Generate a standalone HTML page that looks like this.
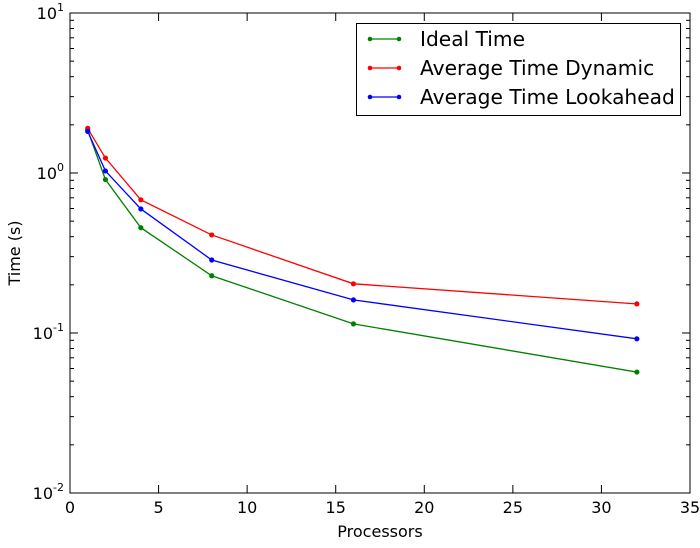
<!DOCTYPE html>
<html><head><meta charset="utf-8"><style>
body{margin:0;background:#fff;}
svg text{font-family:"DejaVu Sans","Liberation Sans",sans-serif;}
</style></head><body>
<svg id="chart" width="700" height="543" xmlns="http://www.w3.org/2000/svg"></svg>
<script>
const processors = [1, 2, 4, 8, 16, 32];
const idealTime = [1.85, 0.91, 0.455, 0.228, 0.114, 0.057];
const dynamicTime = [1.9, 1.24, 0.68, 0.41, 0.203, 0.152];
const lookaheadTime = [1.82, 1.03, 0.596, 0.286, 0.161, 0.092];
const xTicks = [0, 5, 10, 15, 20, 25, 30, 35];
const yExps = [-2, -1, 0, 1];
const seriesNames = ["Ideal Time", "Average Time Dynamic", "Average Time Lookahead"];

const NS = "http://www.w3.org/2000/svg";
const svg = document.getElementById('chart');
const L = 70, R = 690, T = 13, B = 493;
const xs = v => L + (v - 0) / 35 * (R - L);
const ys = v => T + (1 - Math.log10(v)) / 3 * (B - T);
function mk(tag, attrs, parent) {
  const e = document.createElementNS(NS, tag);
  for (const k in attrs) e.setAttribute(k, attrs[k]);
  (parent || svg).appendChild(e);
  return e;
}
const tg = mk('g', {});


xTicks.forEach(t => {
  const x = xs(t);
  mk('line', {x1: x, x2: x, y1: B, y2: B - 8, stroke: '#000'}, tg);
  mk('line', {x1: x, x2: x, y1: T, y2: T + 8, stroke: '#000'}, tg);
  const tx = mk('text', {x: x, y: B + 20, 'font-size': 16, 'text-anchor': 'middle'}, tg);
  tx.textContent = t;
  
  
});
yExps.forEach(e => {
  const y = ys(Math.pow(10, e));
  mk('line', {x1: L, x2: L + 8, y1: y, y2: y, stroke: '#000'}, tg);
  mk('line', {x1: R, x2: R - 8, y1: y, y2: y, stroke: '#000'}, tg);
  const tx = mk('text', {x: L - 6, y: y + 6, 'font-size': 16, 'text-anchor': 'end'}, tg);
  tx.innerHTML = '10<tspan dy="-8" font-size="11">' + (e < 0 ? '-' + (-e) : e) + '</tspan>';
  
  
  if (e < 1) for (let m = 2; m < 10; m++) {
    const ym = ys(m * Math.pow(10, e));
    mk('line', {x1: L, x2: L + 4, y1: ym, y2: ym, stroke: '#000'}, tg);
    mk('line', {x1: R, x2: R - 4, y1: ym, y2: ym, stroke: '#000'}, tg);
  }
});
const frame = mk('rect', {x: L, y: T, width: R - L, height: B - T, fill: 'none', stroke: '#000', 'stroke-width': 1});



const colors = ['#008000', '#ff0000', '#0000ff'];
[idealTime, dynamicTime, lookaheadTime].forEach((s, i) => {
  const g = mk('g', {});
  
  
  mk('polyline', {points: s.map((v, j) => xs(processors[j]) + ',' + ys(v)).join(' '), fill: 'none', stroke: colors[i], 'stroke-width': 1.3}, g);
  s.forEach((v, j) => {
    const c = mk('circle', {cx: xs(processors[j]), cy: ys(v), r: 2.6, fill: colors[i]}, g);
    
    
  });
});

const lg = mk('g', {});


mk('rect', {x: 356.5, y: 23.5, width: 324, height: 92, fill: '#fff', stroke: '#000'}, lg);
seriesNames.forEach((n, i) => {
  const y = 39 + i * 29;
  const eg = mk('g', {}, lg);
  
  
  mk('line', {x1: 370, x2: 399, y1: y, y2: y, stroke: colors[i], 'stroke-width': 1.3}, eg);
  mk('circle', {cx: 370, cy: y, r: 2.3, fill: colors[i]}, eg);
  mk('circle', {cx: 399, cy: y, r: 2.3, fill: colors[i]}, eg);
  const t = mk('text', {x: 420, y: y + 7, 'font-size': 20.2}, eg);
  t.textContent = n;
});

const xl = mk('text', {x: (L + R) / 2, y: 537, 'font-size': 16, 'text-anchor': 'middle'});
xl.textContent = 'Processors';


const yl = mk('text', {x: 20, y: (T + B) / 2, 'font-size': 16, 'text-anchor': 'middle', transform: 'rotate(-90 20 ' + (T + B) / 2 + ')'});
yl.textContent = 'Time (s)';


</script>
</body></html>
